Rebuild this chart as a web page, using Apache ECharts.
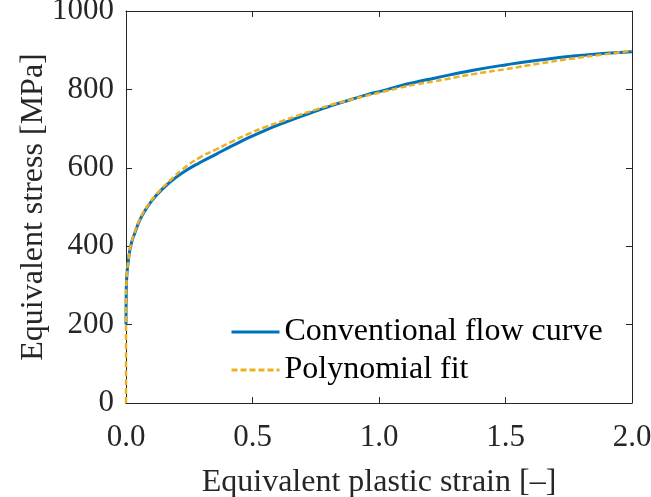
<!DOCTYPE html>
<html>
<head>
<meta charset="utf-8">
<script src="https://cdn.jsdelivr.net/npm/echarts@6/dist/echarts.min.js"></script>
<style>html,body{margin:0;padding:0;background:#fff;}#c{width:651px;height:497px;}</style>
</head>
<body>
<div id="c"></div>
<script>
const convStrain = [0, 0.001, 0.003, 0.011, 0.021, 0.034, 0.054, 0.080, 0.120, 0.173, 0.225, 0.291, 0.357, 0.423, 0.489, 0.555, 0.621, 0.687, 0.753, 0.818, 0.884, 0.95, 1.016, 1.082, 1.148, 1.214, 1.28, 1.372, 1.504, 1.635, 1.767, 1.899, 2.0];
const convStress = [200, 280, 322, 372, 407, 432, 466, 496, 530, 563, 588, 613, 635, 657, 678, 697, 714, 730, 745, 760, 773, 786, 797, 809, 819, 828, 837, 849, 863, 875, 885, 892, 896];
const polyStrain = [0, 0, 0.003, 0.011, 0.021, 0.034, 0.054, 0.080, 0.120, 0.173, 0.225, 0.291, 0.357, 0.423, 0.489, 0.555, 0.621, 0.687, 0.753, 0.818, 0.884, 0.95, 1.016, 1.082, 1.148, 1.214, 1.28, 1.372, 1.504, 1.635, 1.767, 1.899, 2.0];
const polyStress = [0, 250, 320, 372, 408, 434, 468, 498, 532, 567, 597, 626, 647, 668, 688, 705, 720, 735, 749, 762, 773, 784, 794, 804, 813, 820, 828, 839, 852, 866, 879, 890, 899];
const seriesNames = ['Conventional flow curve', 'Polynomial fit'];
const xTickLabels = ['0.0', '0.5', '1.0', '1.5', '2.0'];
const xTitle = 'Equivalent plastic strain [–]';
const yTitle = 'Equivalent stress [MPa]';

const FONT = 'Liberation Serif';
const TXT = '#262626';
const FS = 31;
const FT = 32;
const BLUE = '#0072BD', YEL = '#EDB120';
const chart = echarts.init(document.getElementById('c'), null, {renderer: 'canvas'});
const mkLine = () => ({show: true, onZero: false, lineStyle: {color: TXT, width: 1}});
const mkTick = () => ({show: true, inside: true, length: 6, lineStyle: {color: TXT, width: 1}});
chart.setOption({
  animation: false,
  backgroundColor: '#fff',
  grid: {left: 126, right: 19, top: 11, bottom: 94, containLabel: false, outerBoundsMode: 'none'},
  legend: {
    orient: 'vertical', left: 230, top: 316, padding: 0, itemWidth: 48, itemHeight: 20, itemGap: 6,
    itemStyle: {opacity: 0},
    textStyle: {fontFamily: FONT, fontSize: FT, color: '#000', lineHeight: 32},
    data: [
      {name: seriesNames[0], itemStyle: {opacity: 0}, lineStyle: {color: BLUE, width: 3}},
      {name: seriesNames[1], itemStyle: {opacity: 0}, lineStyle: {color: YEL, width: 3, type: [6, 3]}}
    ]
  },
  xAxis: [{
    type: 'value', min: 0, max: 2, interval: 0.5, position: 'bottom',
    name: xTitle, nameLocation: 'middle', nameGap: 64, nameMoveOverlap: false,
    nameTextStyle: {fontFamily: FONT, fontSize: FT, color: TXT},
    axisLine: mkLine(), axisTick: mkTick(), splitLine: {show: false},
    axisLabel: {margin: 19, fontFamily: FONT, fontSize: FS, color: TXT,
      formatter: v => xTickLabels[Math.round(v / 0.5)]}
  }, {
    type: 'value', min: 0, max: 2, interval: 0.5, position: 'top',
    axisLine: mkLine(), axisTick: mkTick(), axisLabel: {show: false}, splitLine: {show: false}
  }],
  yAxis: [{
    type: 'value', min: 0, max: 1000, interval: 200, position: 'left',
    name: yTitle, nameLocation: 'middle', nameGap: 76, nameMoveOverlap: false,
    nameTextStyle: {fontFamily: FONT, fontSize: FT, color: TXT},
    axisLine: mkLine(), axisTick: mkTick(), splitLine: {show: false},
    axisLabel: {margin: 12, fontFamily: FONT, fontSize: FS, color: TXT, formatter: v => String(v)}
  }, {
    type: 'value', min: 0, max: 1000, interval: 200, position: 'right',
    axisLine: mkLine(), axisTick: mkTick(), axisLabel: {show: false}, splitLine: {show: false}
  }],
  series: [{
    name: seriesNames[0], type: 'line', symbol: 'none', smooth: 0.5,
    data: convStrain.map((x, i) => [x, convStress[i]]),
    lineStyle: {color: BLUE, width: 3}, itemStyle: {color: BLUE}, z: 2
  }, {
    name: seriesNames[1], type: 'line', symbol: 'none', smooth: 0.5,
    data: polyStrain.map((x, i) => [x, polyStress[i]]),
    lineStyle: {color: YEL, width: 2.5, type: [6, 3]}, itemStyle: {color: YEL}, z: 3
  }]
});
</script>
</body>
</html>
